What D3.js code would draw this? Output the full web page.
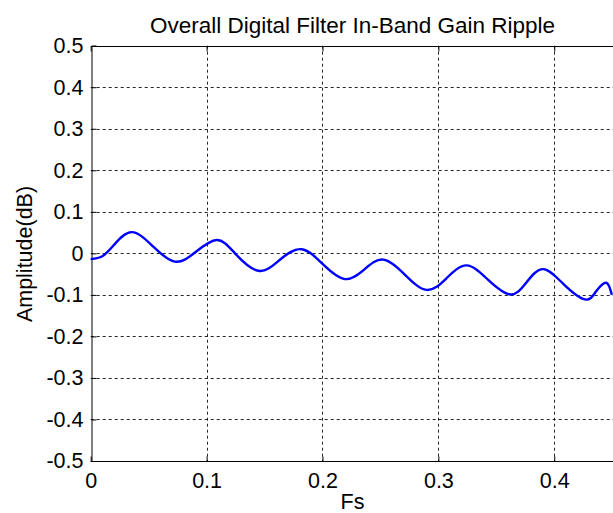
<!DOCTYPE html>
<html>
<head>
<meta charset="utf-8">
<script src="https://cdn.jsdelivr.net/npm/d3@7"></script>
<style>
  html, body { margin: 0; padding: 0; background: #fff; }
  svg { display: block; }
  text { font-family: Arial, "Liberation Sans", sans-serif; fill: #000; }
</style>
</head>
<body>
<svg id="chart" width="613" height="513"></svg>
<script>
// ---- data ----
const freq = [0.000, 0.010, 0.020, 0.0354, 0.054, 0.0727, 0.090, 0.1087, 0.1245, 0.1446,
              0.163, 0.182, 0.201, 0.2194, 0.236, 0.2525, 0.271, 0.2898, 0.307, 0.3244,
              0.343, 0.362, 0.376, 0.3905, 0.408, 0.4265, 0.436, 0.4437, 0.4475, 0.4497];
const gainDb = [-0.014, -0.007, 0.020, 0.051, 0.016, -0.020, 0.002, 0.032, 0.000, -0.042,
                -0.016, 0.010, -0.028, -0.062, -0.039, -0.015, -0.051, -0.088, -0.060, -0.029,
                -0.064, -0.099, -0.070, -0.038, -0.074, -0.111, -0.092, -0.071, -0.080, -0.100];
const xTicks = [0, 0.1, 0.2, 0.3, 0.4];
const yTicks = [-0.5, -0.4, -0.3, -0.2, -0.1, 0, 0.1, 0.2, 0.3, 0.4, 0.5];
const titleText = "Overall Digital Filter In-Band Gain Ripple";
const xLabel = "Fs";
const yLabel = "Amplitude(dB)";

// ---- layout ----
const svg = d3.select("#chart");
const mLeft = 90.7, mRight = 612.2, mTop = 45.7, mBottom = 461;
const x = d3.scaleLinear().domain([0, 0.45]).range([mLeft, mRight]);
const y = d3.scaleLinear().domain([-0.5, 0.5]).range([mBottom, mTop]);
const fmt = d => d === 0 ? "0" : d.toFixed(1);
const FS = "21.5px";

// grid
const grid = svg.append("g").attr("stroke", "#000").attr("stroke-width", 1)
  .attr("stroke-dasharray", "3,3").attr("stroke-opacity", 0.85);
grid.selectAll("line.gx").data(xTicks.filter(d => d > 0)).join("line")
  .attr("x1", d => Math.round(x(d)) + 0.5).attr("x2", d => Math.round(x(d)) + 0.5)
  .attr("y1", mTop).attr("y2", mBottom);
grid.selectAll("line.gy").data(yTicks.filter(d => d > -0.5 && d < 0.5)).join("line")
  .attr("y1", d => Math.round(y(d)) + 0.5).attr("y2", d => Math.round(y(d)) + 0.5)
  .attr("x1", mLeft).attr("x2", mRight + 5);

// axes (inward ticks, MATLAB style)
const xAxisB = d3.axisBottom(x).tickValues(xTicks).tickSize(-5).tickPadding(11).tickFormat(fmt);
const xAxisT = d3.axisTop(x).tickValues(xTicks).tickSize(-5).tickFormat("");
const yAxisL = d3.axisLeft(y).tickValues(yTicks).tickSize(-5).tickPadding(8).tickFormat(fmt);

function styleAxis(g) {
  g.select(".domain").attr("stroke", "#000").attr("stroke-width", 1);
  g.selectAll(".tick line").attr("stroke", "#000");
  g.selectAll(".tick text").attr("font-size", FS)
    .attr("font-family", "Arial, 'Liberation Sans', sans-serif").attr("fill", "#000");
}
svg.append("g").attr("transform", `translate(0,${Math.round(mBottom) + 0.5})`)
  .call(xAxisB).call(styleAxis).call(g => g.select(".domain").attr("d", `M${mLeft},0H${mRight + 5}`));
svg.append("g").attr("transform", `translate(0,${Math.round(mTop) + 0.5})`)
  .call(xAxisT).call(styleAxis).call(g => g.select(".domain").attr("d", `M${mLeft},0H${mRight + 5}`));
svg.append("g").attr("transform", `translate(${Math.round(mLeft) + 0.5},0)`)
  .call(yAxisL).call(styleAxis);

// data line
const line = d3.line().x((d, i) => x(freq[i])).y(d => y(d)).curve(d3.curveNatural);
svg.append("path").datum(gainDb).attr("d", line)
  .attr("fill", "none").attr("stroke", "#0000ff").attr("stroke-width", 2.4)
  .attr("stroke-linejoin", "round");

// labels
svg.append("text").attr("x", 352.5).attr("y", 33).attr("text-anchor", "middle")
  .attr("font-size", "22.5px").text(titleText);
svg.append("text").attr("x", 352.5).attr("y", 509).attr("text-anchor", "middle")
  .attr("font-size", FS).text(xLabel);
svg.append("text").attr("transform", "translate(32,254) rotate(-90)").attr("text-anchor", "middle")
  .attr("font-size", FS).text(yLabel);
</script>
</body>
</html>
